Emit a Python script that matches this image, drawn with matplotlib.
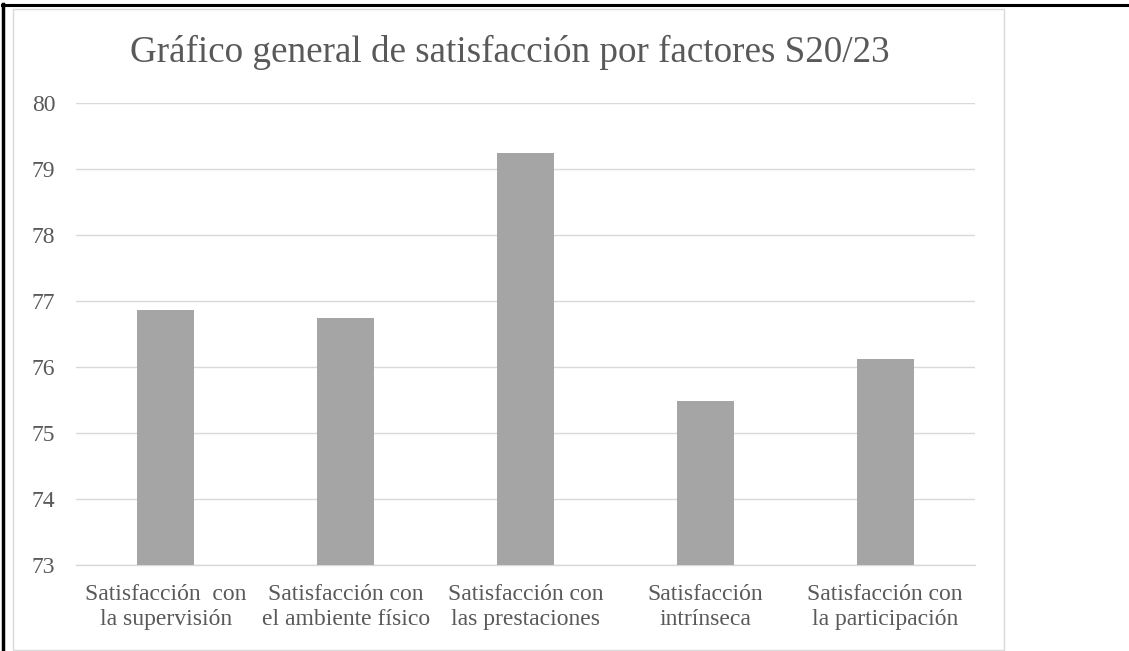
import matplotlib.pyplot as plt
import numpy as np
from matplotlib.lines import Line2D
from matplotlib.patches import Rectangle

plt.rcParams["font.family"] = ["Liberation Serif", "DejaVu Serif"]

# data
categories = [
    "Satisfacción  con\nla supervisión",
    "Satisfacción con\nel ambiente físico",
    "Satisfacción con\nlas prestaciones",
    "Satisfacción\nintrínseca",
    "Satisfacción con\nla participación",
]
scores = [76.87, 76.74, 79.25, 75.49, 76.12]
y_ticks = [73, 74, 75, 76, 77, 78, 79, 80]

W, H = 1129, 651
fig = plt.figure(figsize=(W / 100, H / 100), dpi=100)
fig.patch.set_facecolor("white")

# outer frame: black page border + light grey chart-area border
fig.add_artist(Line2D([3 / W, 3 / W], [0, 1 - 4 / H], color="black", lw=2.5,
                      transform=fig.transFigure))
fig.add_artist(Line2D([2 / W, 1], [1 - 5 / H, 1 - 5 / H], color="black", lw=2.2,
                      transform=fig.transFigure))
fig.add_artist(Rectangle((13 / W, 1.5 / H), (1004 - 13) / W, (649 - 8) / H,
                         transform=fig.transFigure, fill=False,
                         edgecolor="#D9D9D9", lw=1.0))

ax = fig.add_axes([76 / W, 1 - 565 / H, (975 - 76) / W, (565 - 103) / H])
x = np.arange(len(categories))
ax.bar(x, scores, width=0.317, color="#A5A5A5", zorder=3)

ax.set_ylim(73, 80)
ax.set_xlim(-0.5, len(categories) - 0.5)
ax.set_yticks(y_ticks)
ax.set_xticks(x)
ax.set_xticklabels(categories, fontsize=17, color="#595959", linespacing=1.22)
ax.tick_params(axis="y", length=0, pad=15, labelsize=17, labelcolor="#595959")
ax.tick_params(axis="x", length=0, pad=14)
ax.grid(axis="y", color="#D9D9D9", lw=1.0, zorder=0)
for side in ("top", "right", "left"):
    ax.spines[side].set_visible(False)
ax.spines["bottom"].set_color("#D9D9D9")
ax.spines["bottom"].set_linewidth(1.0)

fig.text(510 / W, 1 - 62 / H, "Gráfico general de satisfacción por factores S20/23",
         ha="center", va="baseline", fontsize=26.7, color="#595959")

fig.savefig("out.png", dpi=100)
